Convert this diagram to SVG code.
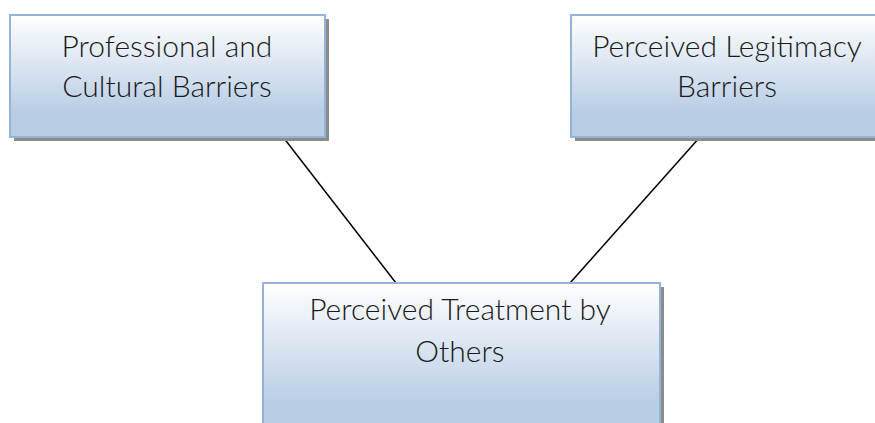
<svg xmlns="http://www.w3.org/2000/svg" width="875" height="423" viewBox="0 0 875 423">
<defs>
<linearGradient id="g" x1="0" y1="0" x2="0" y2="1">
<stop offset="0" stop-color="#ffffff"/>
<stop offset="0.8" stop-color="#b9cde5"/>
<stop offset="1" stop-color="#b9cde5"/>
</linearGradient>
<style>
.box{fill:url(#g);stroke:#95b3d7;stroke-width:2}
.sh{fill:#8c8c8c}
.t{font-family:Lato,"Liberation Sans",sans-serif;font-weight:300;font-size:30px;fill:#1a1a1a;text-anchor:middle}
.c{stroke:#000;stroke-width:1.5}
</style>
</defs>
<rect width="875" height="423" fill="#fff"/>
<g id="connectors">
<line class="c" x1="283" y1="137" x2="396" y2="283"/>
<line class="c" x1="700" y1="137" x2="570" y2="283"/>
</g>
<g id="node1">
<rect class="sh" x="14" y="19" width="315" height="122"/>
<rect class="box" x="10" y="15" width="315" height="122"/>
<text class="t" x="167" y="57">Professional and</text>
<text class="t" x="167" y="97">Cultural Barriers</text>
</g>
<g id="node2">
<rect class="sh" x="575" y="19" width="313" height="122"/>
<rect class="box" x="571" y="15" width="313" height="122"/>
<text class="t" x="727" y="57">Perceived Legitimacy</text>
<text class="t" x="727" y="97">Barriers</text>
</g>
<g id="node3">
<rect class="sh" x="267" y="287" width="397" height="150"/>
<rect class="box" x="263" y="283" width="397" height="150"/>
<text class="t" x="460" y="320">Perceived Treatment by</text>
<text class="t" x="460" y="362">Others</text>
</g>
</svg>
